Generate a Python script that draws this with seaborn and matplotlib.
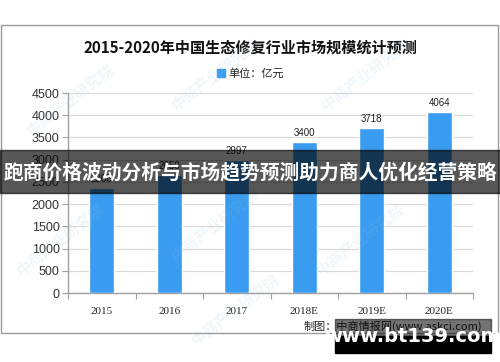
import matplotlib
matplotlib.use("Agg")
import matplotlib.pyplot as plt
from matplotlib.patches import Rectangle
import seaborn as sns
import pandas as pd

years = ["2015", "2016", "2017", "2018E", "2019E", "2020E"]
market_size = [2368, 2650, 2997, 3400, 3718, 4064]
y_ticks = [0, 500, 1000, 1500, 2000, 2500, 3000, 3500, 4000, 4500]

title = "2015-2020年中国生态修复行业市场规模统计预测"
legend_label = "单位：亿元"
source_text = "制图：中商情报网(www.askci.com)"
banner_text = "跑商价格波动分析与市场趋势预测助力商人优化经营策略"
site_text = "www.bt139.com"
watermark = "中商产业研究院"

sns.set_theme(style="white")
plt.rcParams['font.family'] = ['Noto Sans CJK SC', 'DejaVu Sans']

bar_color = "#3A9CF0"
W, H = 500, 362
fig = plt.figure(figsize=(5, 3.62), dpi=100)

# outer frame of the original chart
fig.patches.append(Rectangle((1 / W, 1 - 333 / H), 497 / W, (333 - 25) / H,
                             transform=fig.transFigure, fill=False,
                             edgecolor="#9a9a9a", linewidth=1.0, zorder=0))

ax = fig.add_axes([68 / W, 1 - 293 / H, (473 - 68) / W, (293 - 93) / H])
df = pd.DataFrame({"year": years, "value": market_size})
sns.barplot(data=df, x="year", y="value", color=bar_color, width=0.37,
            saturation=1, ax=ax, zorder=3)

ax.set_ylim(0, 4500)
ax.set_yticks(y_ticks)
ax.set_xlim(-0.5, len(years) - 0.5)
ax.set_xlabel("")
ax.set_ylabel("")
ax.yaxis.grid(True, color="#d9d9d9", linewidth=0.8, zorder=0)
ax.set_axisbelow(True)
for s in ["top", "right"]:
    ax.spines[s].set_visible(False)
for s in ["left", "bottom"]:
    ax.spines[s].set_color("#a0a0a0")
    ax.spines[s].set_linewidth(1.0)

ax.tick_params(axis="y", left=True, length=4, color="#a0a0a0", width=0.8,
               labelsize=9, pad=2, labelcolor="#333333")
ax.set_xticks(range(len(years)))
ax.set_xticklabels(years, family=["Liberation Serif"])
ax.tick_params(axis="x", which="major", length=0, labelsize=8, pad=10,
               labelcolor="#222222")
ax.set_xticks([i - 0.5 for i in range(len(years) + 1)], minor=True)
ax.tick_params(axis="x", which="minor", bottom=True, length=4,
               color="#a0a0a0", width=0.8)
for lab in ax.get_yticklabels():
    lab.set_family(["Liberation Sans"])

for i, v in enumerate(market_size):
    ax.text(i, v + 90, str(v), ha="center", va="bottom", fontsize=7,
            family=["Liberation Sans"], color="#222222", zorder=4)

fig.text(0.5, 1 - 48 / H, title, ha="center", va="center", fontsize=10.9,
         fontweight="bold", color="#111111")
fig.patches.append(Rectangle((217 / W, 1 - 77 / H), 8 / W, 8 / H,
                             transform=fig.transFigure, color=bar_color))
fig.text(228 / W, 1 - 73 / H, legend_label, ha="left", va="center",
         fontsize=8, color="#222222")

# faint diagonal watermarks
for (wx, wy) in [(70, 100), (215, 75), (365, 75), (60, 240), (215, 225),
                 (360, 240), (235, 310)]:
    fig.text(wx / W, 1 - wy / H, watermark, ha="center", va="center",
             fontsize=11, rotation=38, color="#8fc3ec", alpha=0.14,
             fontweight="bold")

fig.text(304 / W, 1 - 326 / H, source_text, ha="left", va="center",
         fontsize=8, color="#222222")

# overlay banner
fig.patches.append(Rectangle((0, 1 - 193 / H), 1, 43 / H,
                             transform=fig.transFigure, color="#000000",
                             alpha=0.66, zorder=10))
fig.text(0.5, 1 - 172 / H, banner_text, ha="center", va="center",
         fontsize=14.2, fontweight="bold", color="white", zorder=11)

# site watermark box
fig.patches.append(Rectangle((335 / W, 1 - 336 / H), 156 / W, 17 / H,
                             transform=fig.transFigure, color="#000000",
                             alpha=0.55, zorder=10))
fig.patches.append(Rectangle((335 / W, 1 - 353 / H), 156 / W, 17 / H,
                             transform=fig.transFigure, color="#000000",
                             zorder=10))
fig.text(413 / W, 1 - 337 / H, site_text, ha="center", va="center",
         fontsize=14, fontweight="bold", color="white", zorder=11,
         family=["DejaVu Sans"])

fig.savefig("out.png", dpi=100)
